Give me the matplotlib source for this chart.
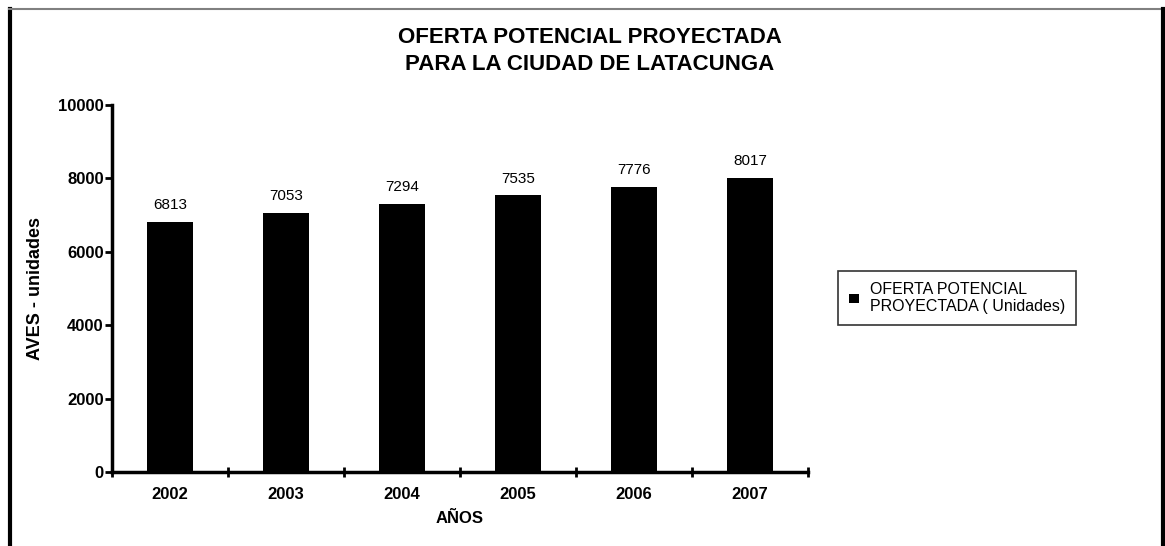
import matplotlib.pyplot as plt
from matplotlib.lines import Line2D
from matplotlib import font_manager

# datos
years = ['2002', '2003', '2004', '2005', '2006', '2007']
oferta = [6813, 7053, 7294, 7535, 7776, 8017]
serie_label = 'OFERTA POTENCIAL\nPROYECTADA ( Unidades)'
titulo = 'OFERTA POTENCIAL PROYECTADA\nPARA LA CIUDAD DE LATACUNGA'

names = {f.name for f in font_manager.fontManager.ttflist}
fam = ['Liberation Sans Narrow'] if 'Liberation Sans Narrow' in names else ['Liberation Sans']
plt.rcParams['font.family'] = fam + ['DejaVu Sans']

fig = plt.figure(figsize=(11.65, 5.46), dpi=100)
W, H = 1165, 546

# marco del grafico
fig.add_artist(Line2D([9.5 / W, 9.5 / W], [0, 1 - 9 / H], color='black', lw=3))
fig.add_artist(Line2D([9 / W, 1163 / W], [1 - 9 / H, 1 - 9 / H], color='#808080', lw=1.5))
fig.add_artist(Line2D([1162.5 / W, 1162.5 / W], [0, 1 - 9 / H], color='black', lw=3))

ax = fig.add_axes([112 / W, 74 / H, 696 / W, 367 / H])
x = list(range(len(years)))
bars = ax.bar(x, oferta, width=0.4, color='black', label=serie_label)

for xi, v in zip(x, oferta):
    ax.text(xi, v + 270, str(v), ha='center', va='bottom', fontsize=11)

ax.set_xlim(-0.5, len(years) - 0.5)
ax.set_ylim(0, 10000)
ax.set_yticks([0, 2000, 4000, 6000, 8000, 10000])
ax.set_yticklabels(['0', '2000', '4000', '6000', '8000', '10000'], fontweight='bold', fontsize=12)
ax.set_xticks(x)
ax.set_xticklabels(years, fontweight='bold', fontsize=12)
ax.set_xticks([i + 0.5 for i in range(-1, len(years))], minor=True)
ax.tick_params(axis='x', which='major', length=0, pad=11)
ax.tick_params(axis='x', which='minor', length=7, width=2, direction='inout')
ax.tick_params(axis='y', length=5, width=2, direction='out', pad=1)

for s in ['top', 'right']:
    ax.spines[s].set_visible(False)
ax.spines['left'].set_linewidth(2.5)
ax.spines['bottom'].set_linewidth(2.5)

ax.set_xlabel('AÑOS', fontweight='bold', fontsize=12, labelpad=6)
ax.set_ylabel('AVES - unidades', fontweight='bold', fontsize=13, labelpad=10)

fig.text(590 / W, 1 - 51 / H, titulo, ha='center', va='center', fontsize=16,
         fontweight='bold', linespacing=1.4)

leg = ax.legend(loc='center left', bbox_to_anchor=(838 / W, 1 - 298 / H),
                bbox_transform=fig.transFigure, frameon=True, fancybox=False,
                fontsize=11.5, handlelength=0.6, handleheight=0.6, handletextpad=0.7,
                borderpad=0.7, borderaxespad=0)
leg.get_frame().set_edgecolor('black')
leg.get_frame().set_linewidth(1.2)
for h in leg.legend_handles:
    h.set_height(7)
    h.set_width(7)

fig.savefig('out.png', dpi=100)
